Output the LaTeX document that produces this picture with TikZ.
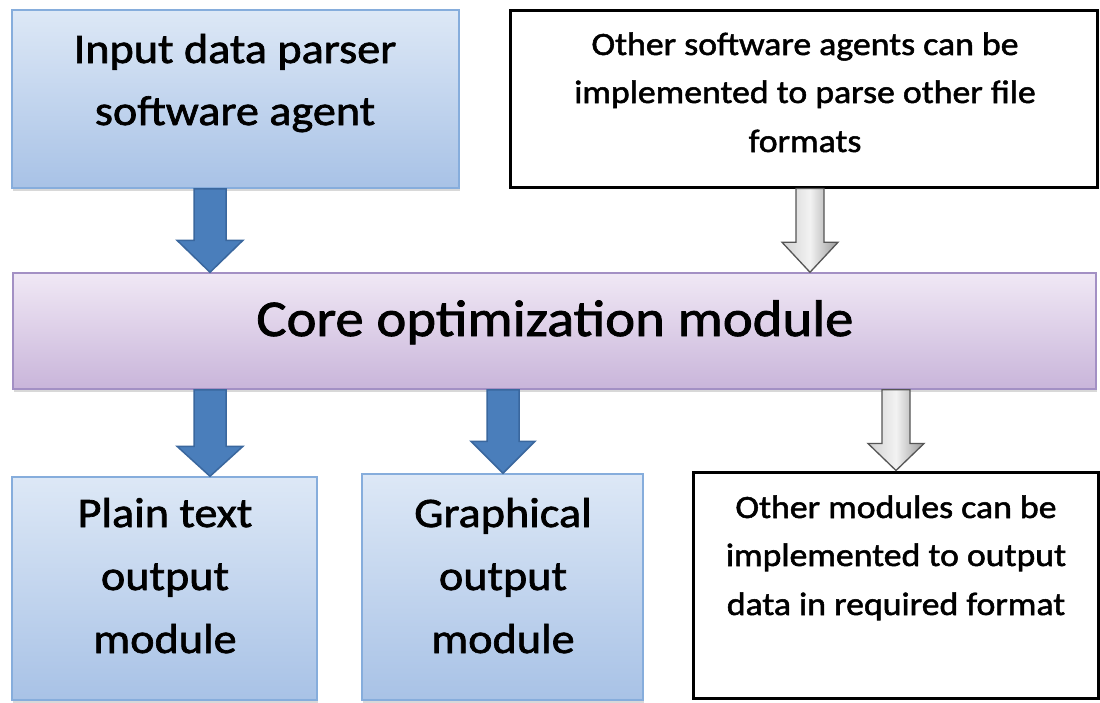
\documentclass[tikz,border=0pt]{standalone}
\usepackage{fontspec}
\setmainfont{Carlito}[FakeStretch=1.1,FakeBold=1.6]
\usetikzlibrary{calc,shadows}
\definecolor{blueTop}{HTML}{DDE8F6}
\definecolor{blueBot}{HTML}{A8C2E6}
\definecolor{blueEdge}{HTML}{86ADDC}
\definecolor{purTop}{HTML}{F0E8F5}
\definecolor{purBot}{HTML}{C9B5DA}
\definecolor{purEdge}{HTML}{A390C4}
\definecolor{arrBlue}{HTML}{4A7EBB}
\definecolor{arrBlueEdge}{HTML}{3A679E}
\definecolor{arrGrayEdge}{HTML}{555555}
% #1 style, #2 x position, #3 from node anchor, #4 to node anchor,
% #5 shaft half width, #6 head half width, #7 head length
\newcommand\blockarrow[7]{%
  \path[#1] let \p1=(#2,0), \p2=(#3), \p3=(#4) in
    (\x1-#5pt,\y2) -- (\x1+#5pt,\y2) -- (\x1+#5pt,\y3+#7pt) -- (\x1+#6pt,\y3+#7pt)
    -- (\x1,\y3) -- (\x1-#6pt,\y3+#7pt) -- (\x1-#5pt,\y3+#7pt) -- cycle;}
\begin{document}
\begin{tikzpicture}[x=1pt,y=-1pt,
  softshadow/.style={drop shadow={shadow xshift=1pt,shadow yshift=-3pt,opacity=.25,fill=black!60}},
  bluebox/.style={draw=blueEdge,line width=1.5pt,top color=blueTop,bottom color=blueBot,inner sep=0pt,softshadow},
  purbox/.style={draw=purEdge,line width=1.5pt,top color=purTop,bottom color=purBot,inner sep=0pt,softshadow},
  plainbox/.style={draw=black,line width=3pt,fill=white,inner sep=0pt},
  bigtxt/.style={anchor=base,inner sep=0pt,font=\fontsize{42}{50}\selectfont},
  smalltxt/.style={anchor=base,inner sep=0pt,font=\fontsize{32.5}{40}\selectfont},
  coretxt/.style={anchor=base,inner sep=0pt,font=\fontsize{51.5}{60}\selectfont},
  bluearr/.style={fill=arrBlue,draw=arrBlueEdge,line width=1.5pt,line join=miter},
  grayarr/.style={left color=black!18,right color=black!40,middle color=black!5,draw=arrGrayEdge,line width=1.3pt,line join=miter}]
\useasboundingbox (0,0) rectangle (1100,702);
\fill[white] (0,0) rectangle (1100,702);

% boxes
\node[bluebox,minimum width=447pt,minimum height=178pt] (inp) at (235.5,99) {};
\node[plainbox,minimum width=587pt,minimum height=177pt] (oth) at (803.5,98.5) {};
\node[purbox,minimum width=1083pt,minimum height=116pt] (core) at (554.5,331) {};
\node[bluebox,minimum width=305pt,minimum height=223pt] (plain) at (164.5,588.5) {};
\node[bluebox,minimum width=281pt,minimum height=226pt] (graph) at (502.5,587) {};
\node[plainbox,minimum width=405pt,minimum height=226pt] (othmod) at (895.5,585) {};

% texts
\node[bigtxt] (t1a) at (235,63) {Input data parser};
\node[bigtxt] (t1b) at (235,125) {software agent};
\node[smalltxt] (t2a) at (805,55) {Other software agents can be};
\node[smalltxt] (t2b) at (805,103) {implemented to parse other file};
\node[smalltxt] (t2c) at (805,152) {formats};
\node[coretxt] (tc) at (555,336) {Core optimization module};
\node[bigtxt] (t3a) at (165,527) {Plain text};
\node[bigtxt] (t3b) at (165,590) {output};
\node[bigtxt] (t3c) at (165,653) {module};
\node[bigtxt] (t4a) at (503,527) {Graphical};
\node[bigtxt] (t4b) at (503,590) {output};
\node[bigtxt] (t4c) at (503,653) {module};
\node[smalltxt] (t5a) at (896,518) {Other modules can be};
\node[smalltxt] (t5b) at (896,566) {implemented to output};
\node[smalltxt] (t5c) at (896,615) {data in required format};

% block arrows
\blockarrow{bluearr}{210}{inp.south}{core.north}{16}{33}{32}
\blockarrow{grayarr}{810}{oth.south}{core.north}{14}{28}{30}
\blockarrow{bluearr}{210}{core.south}{plain.north}{16}{33}{30}
\blockarrow{bluearr}{503}{core.south}{graph.north}{16}{32}{32}
\blockarrow{grayarr}{896}{core.south}{othmod.north}{14}{28}{27}
\end{tikzpicture}
\end{document}
